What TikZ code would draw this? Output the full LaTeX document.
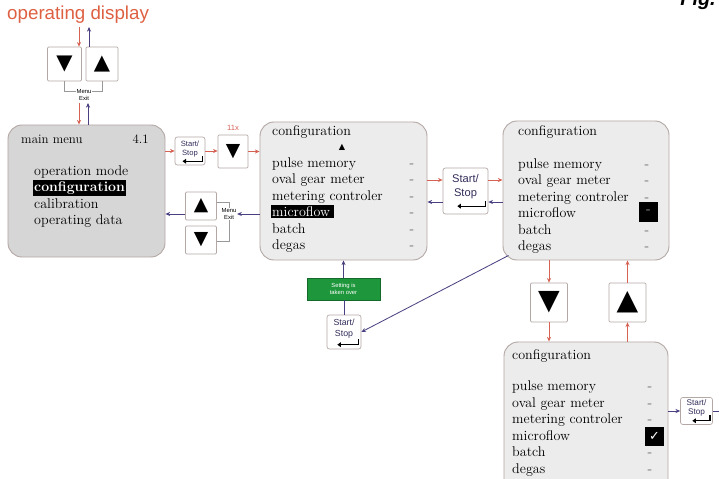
\documentclass[tikz,border=0pt]{standalone}
\usepackage{fontspec}
\setsansfont{Liberation Sans}
\newfontfamily\glyphfont{DejaVu Sans}
\usepackage{xcolor}
\usetikzlibrary{arrows.meta}

\definecolor{arrowred}{RGB}{214,98,84}
\definecolor{arrowblue}{RGB}{72,64,128}
\definecolor{framegray}{RGB}{180,168,165}
\definecolor{menugray}{RGB}{214,214,214}
\definecolor{panelgray}{RGB}{236,236,236}
\definecolor{okgreen}{RGB}{30,150,60}
\definecolor{titlered}{RGB}{222,96,66}

\setlength{\fboxsep}{1.2pt}
\newcommand{\hilite}[1]{\hspace*{-1.2pt}\colorbox{black}{\textcolor{white}{#1}}}

\tikzset{
  panel/.style={draw=framegray, line width=0.8pt, rounded corners=12pt, fill=panelgray, inner sep=0pt},
  keybox/.style={draw=framegray, line width=0.6pt, fill=white, rounded corners=1pt, inner sep=0pt},
  ssbox/.style={draw=framegray, line width=0.6pt, fill=white, rounded corners=2pt, inner sep=0pt},
  sslabel/.style={align=center, text=arrowblue!70!black, inner sep=0pt},
  smalltag/.style={font=\fontsize{5}{5.5}\selectfont\sffamily, align=center, inner sep=0.5pt, fill=white},
  redarr/.style={draw=arrowred, line width=0.7pt, -{Stealth[length=4pt,width=3.5pt]}},
  bluearr/.style={draw=arrowblue, line width=0.7pt, -{Stealth[length=4pt,width=3.5pt]}},
  bracket/.style={draw=gray!80, line width=0.5pt},
  retarr/.style={draw=black, line width=1.1pt, -{Triangle[length=3pt,width=4pt]}},
  menutext/.style={font=\fontsize{12}{14.1}\selectfont, align=left, inner sep=0pt, anchor=west},
  dashcol/.style={font=\fontsize{12}{14.1}\selectfont, align=center, inner sep=0pt, text=gray!70!black},
  boxtitle/.style={font=\fontsize{12}{14}\selectfont, anchor=west, inner sep=0pt},
}

\begin{document}
\begin{tikzpicture}[x=0.03cm, y=-0.03cm]
  \useasboundingbox (0,0) rectangle (719,479);

  % header
  \node[font=\fontsize{16}{16}\selectfont\sffamily, text=titlered, anchor=base west, inner sep=0pt] (opdisp) at (7,20) {operating display};
  \node[font=\fontsize{17}{17}\selectfont\sffamily\bfseries\itshape, anchor=base east, inner sep=0pt] (fig) at (716,6) {Fig.};

  % keys under the display
  \node[keybox, minimum width=1.02cm, minimum height=1.02cm, font=\glyphfont\fontsize{18}{18}\selectfont] (kd0) at (64.5,64) {▼};
  \node[keybox, minimum width=0.96cm, minimum height=1.02cm, font=\glyphfont\fontsize{18}{18}\selectfont] (ku0) at (102,64) {▲};
  \node[smalltag] (menuexit0) at (84,95) {Menu\\Exit};

  % main menu
  \node[panel, fill=menugray, minimum width=4.71cm, minimum height=3.96cm] (mainmenu) at (86.5,191) {};
  \node[boxtitle, font=\fontsize{11}{13}\selectfont] (mmtitle) at (21,139) {main menu};
  \node[font=\fontsize{11}{13}\selectfont, anchor=east, inner sep=0pt] (mmnum) at (149,139) {4.1};
  \node[menutext] (mmlist) at (34,196.5) {\strut operation mode\\\hilite{\bfseries configuration}\\calibration\\operating data\strut};

  % keys between main menu and configuration
  \node[ssbox, minimum width=0.9cm, minimum height=0.84cm] (ss1) at (190,151) {};
  \node[keybox, minimum width=0.9cm, minimum height=0.99cm, font=\glyphfont\fontsize{16}{16}\selectfont] (kd1) at (233,151.5) {▼};
  \node[font=\fontsize{6.5}{7}\selectfont\sffamily, text=arrowred, inner sep=0pt] (times) at (233,128) {11x};
  \node[keybox, minimum width=0.93cm, minimum height=0.84cm, font=\glyphfont\fontsize{16}{16}\selectfont] (ku1) at (201,206) {▲};
  \node[keybox, minimum width=0.93cm, minimum height=0.84cm, font=\glyphfont\fontsize{16}{16}\selectfont] (kd2) at (201,240) {▼};
  \node[smalltag] (menuexit1) at (229,214) {Menu\\Exit};

  % configuration, list view
  \node[panel, minimum width=5.01cm, minimum height=4.14cm] (config1) at (343.5,191) {};
  \node[boxtitle] (c1title) at (272,132) {configuration};
  \node[font=\glyphfont\fontsize{7}{7}\selectfont, inner sep=0pt] (c1up) at (342,147) {▲};
  \node[menutext] (c1list) at (272,205) {\strut pulse memory\\oval gear meter\\metering controler\\\hilite{microflow\,}\\batch\\degas\strut};
  \node[dashcol] (c1dash) at (412,205) {\strut-\\-\\-\\-\\-\\-\strut};

  \node[ssbox, minimum width=1.35cm, minimum height=1.38cm] (ss2) at (465.5,191) {};

  % configuration, item chosen
  \node[panel, minimum width=4.98cm, minimum height=4.17cm] (config2) at (586,190.5) {};
  \node[boxtitle] (c2title) at (518,132) {configuration};
  \node[menutext] (c2list) at (518,206) {\strut pulse memory\\oval gear meter\\metering controler\\microflow\\batch\\degas\strut};
  \node[dashcol] (c2dash) at (647,206) {\strut-\\-\\-\\~\\-\\-\strut};
  \node[fill=black, minimum width=0.57cm, minimum height=0.6cm, inner sep=0pt, text=gray!60, font=\fontsize{12}{14}\selectfont] (c2mark) at (648.5,212) {-};

  \node[keybox, minimum width=1.11cm, minimum height=1.17cm, font=\glyphfont\fontsize{24}{24}\selectfont] (kd3) at (549,302.5) {▼};
  \node[keybox, minimum width=1.11cm, minimum height=1.17cm, font=\glyphfont\fontsize{24}{24}\selectfont] (ku3) at (627.5,302.5) {▲};

  % configuration, item ticked
  \node[panel, minimum width=4.92cm, minimum height=4.74cm] (config3) at (586,421) {};
  \node[boxtitle] (c3title) at (512,356) {configuration};
  \node[menutext] (c3list) at (512,428.5) {\strut pulse memory\\oval gear meter\\metering controler\\microflow\\batch\\degas\strut};
  \node[dashcol] (c3dash) at (650,428.5) {\strut-\\-\\-\\~\\-\\-\strut};
  \node[fill=black, minimum width=0.57cm, minimum height=0.57cm, inner sep=0pt, text=white, font=\glyphfont\fontsize{11}{11}\selectfont] (c3tick) at (654.5,436) {✓};
  \node[ssbox, minimum width=0.96cm, minimum height=0.81cm] (ss4) at (696.5,411) {};
  \coordinate (rim) at (719,411);

  % taking over
  \node[fill=okgreen, draw=okgreen!70!black, minimum width=2.19cm, minimum height=0.66cm, inner sep=0pt, align=center, text=white, font=\fontsize{5}{6}\selectfont\sffamily] (okbox) at (343.5,289) {Setting is\\taken over};
  \node[ssbox, minimum width=1.02cm, minimum height=1.02cm] (ss3) at (344,332) {};

  % start/stop faces
  \foreach \s/\sz/\bl/\dy/\ay/\len in {ss1/6.5/7.5/2pt/3.5pt/17pt, ss2/9.5/12/4pt/7pt/24pt, ss3/7.5/9/3pt/4pt/18pt, ss4/7/8/2.5pt/3.5pt/15pt}{
    \node[sslabel, font=\fontsize{\sz}{\bl}\selectfont\sffamily] (\s txt) at ([yshift=\dy]\s.center) {Start/\\Stop};
    \draw[retarr] ([xshift=-2.5pt,yshift=\ay]\s.south east) ++(0pt,4.5pt) -- ++(0pt,-4.5pt) -- ++(-\len,0pt);
  }

  % display <-> main menu
  \coordinate (r0) at (79,27);
  \coordinate (b0) at (89,27);
  \coordinate (r1) at (79,103);
  \coordinate (b1) at (88,103);
  \draw[redarr] (r0) -- (r0 |- kd0.north);
  \draw[bluearr] (b0 |- ku0.north) -- (b0);
  \draw[bracket] (kd0.south) |- ([yshift=3pt]menuexit0.west);
  \draw[bracket] (ku0.south) |- ([yshift=3pt]menuexit0.east);
  \draw[redarr] (r1) -- (r1 |- mainmenu.north);
  \draw[bluearr] (b1 |- mainmenu.north) -- (b1);

  % main menu -> configuration
  \draw[redarr] (mainmenu.east |- ss1.west) -- (ss1.west);
  \draw[redarr] (ss1.east) -- (kd1.west |- ss1.east);
  \draw[redarr] (kd1.east) -- (config1.west |- kd1.east);

  % configuration -> main menu
  \draw[bracket] ([yshift=3.4pt]ku1.east) -| (menuexit1.north);
  \draw[bracket] ([yshift=-1pt]kd2.east) -| (menuexit1.south);
  \draw[bluearr] (config1.west |- menuexit1.east) -- (menuexit1.east);
  \draw[bluearr] (ku1.west |- menuexit1.west) -- (mainmenu.east |- menuexit1.west);

  % list view <-> item chosen
  \coordinate (ss2in) at ([yshift=9.4pt]ss2.west);
  \coordinate (ss2back) at ([yshift=-9.4pt]ss2.east);
  \draw[redarr] (config1.east |- ss2in) -- (ss2in);
  \draw[redarr] (ss2in -| ss2.east) -- (ss2in -| config2.west);
  \draw[bluearr] (ss2back -| config2.west) -- (ss2back);
  \draw[bluearr] (ss2back -| ss2.west) -- (ss2back -| config1.east);

  % item chosen <-> item ticked
  \draw[redarr] (config2.south -| kd3.north) -- (kd3.north);
  \draw[redarr] (kd3.south) -- (config3.north -| kd3.south);
  \draw[redarr] (config3.north -| ku3.south) -- (ku3.south);
  \draw[redarr] (ku3.north) -- (config2.south -| ku3.north);

  % back to the list
  \draw[bluearr] ([shift={(6,-5)}]config2.south west) -- (ss3.east);
  \draw[arrowblue, line width=0.7pt] (ss3.north) -- (ss3.north |- okbox.south);
  \draw[bluearr] (okbox.north) -- (config1.south);
  \draw[bluearr] (config3.east |- ss4.west) -- (ss4.west);
  \draw[arrowblue, line width=0.7pt] (ss4.east) -- (rim |- ss4.east);
\end{tikzpicture}
\end{document}
